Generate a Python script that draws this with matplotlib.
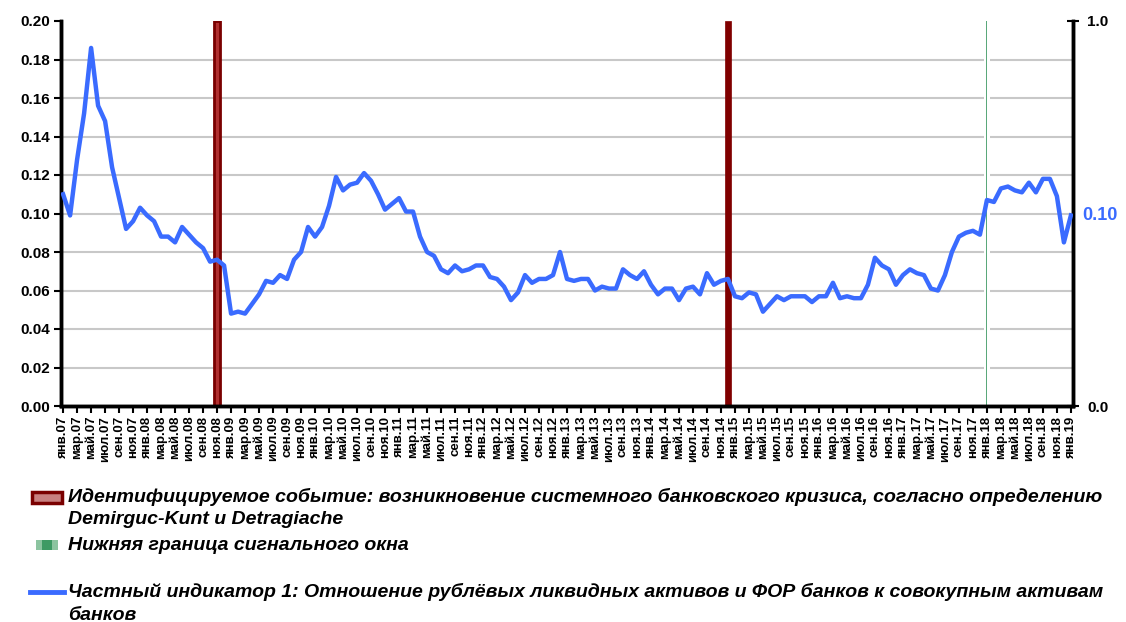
import matplotlib
matplotlib.use("Agg")
import matplotlib.pyplot as plt
from matplotlib.patches import Rectangle
from matplotlib.lines import Line2D
import numpy as np

plt.rcParams['font.family'] = ['Liberation Sans', 'DejaVu Sans']

# ---- data ----
month_abbr = ['янв', 'мар', 'май', 'июл', 'сен', 'ноя']
years = ['07', '08', '09', '10', '11', '12', '13', '14', '15', '16', '17', '18', '19']

indicator = [
    0.110, 0.099, 0.128, 0.152, 0.186, 0.156, 0.148, 0.124, 0.108, 0.092, 0.096, 0.103,  # 2007
    0.099, 0.096, 0.088, 0.088, 0.085, 0.093, 0.089, 0.085, 0.082, 0.075, 0.076, 0.073,  # 2008
    0.048, 0.049, 0.048, 0.053, 0.058, 0.065, 0.064, 0.068, 0.066, 0.076, 0.080, 0.093,  # 2009
    0.088, 0.093, 0.104, 0.119, 0.112, 0.115, 0.116, 0.121, 0.117, 0.110, 0.102, 0.105,  # 2010
    0.108, 0.101, 0.101, 0.088, 0.080, 0.078, 0.071, 0.069, 0.073, 0.070, 0.071, 0.073,  # 2011
    0.073, 0.067, 0.066, 0.062, 0.055, 0.059, 0.068, 0.064, 0.066, 0.066, 0.068, 0.080,  # 2012
    0.066, 0.065, 0.066, 0.066, 0.060, 0.062, 0.061, 0.061, 0.071, 0.068, 0.066, 0.070,  # 2013
    0.063, 0.058, 0.061, 0.061, 0.055, 0.061, 0.062, 0.058, 0.069, 0.063, 0.065, 0.066,  # 2014
    0.057, 0.056, 0.059, 0.058, 0.049, 0.053, 0.057, 0.055, 0.057, 0.057, 0.057, 0.054,  # 2015
    0.057, 0.057, 0.064, 0.056, 0.057, 0.056, 0.056, 0.063, 0.077, 0.073, 0.071, 0.063,  # 2016
    0.068, 0.071, 0.069, 0.068, 0.061, 0.060, 0.068, 0.080, 0.088, 0.090, 0.091, 0.089,  # 2017
    0.107, 0.106, 0.113, 0.114, 0.112, 0.111, 0.116, 0.111, 0.118, 0.118, 0.109, 0.085,  # 2018
    0.099,                                                                                # янв.19
]

crisis_months = [22, 95]      # ноя.08, дек.14 (month index from янв.07)
crisis_values = [1.0, 1.0]
signal_months = [132]         # янв.18
signal_values = [1.0]

last_label = '0.10'

# ---- figure ----
fig = plt.figure(figsize=(11.26, 6.22), dpi=100)
ax = fig.add_axes([61/1126, 1-406/622, (1073-61)/1126, (406-21)/622])
ax2 = ax.twinx()

n = len(indicator)
x = np.arange(n)

ax.set_ylim(0, 0.20)
ax.set_yticks(np.arange(0, 0.2001, 0.02))

# secondary axis: gridlines (below bars) and event bars
ax2.set_ylim(0, 1.0)
ax2.set_yticks(np.arange(0.1, 1.0, 0.1), minor=True)
ax2.yaxis.grid(True, which='minor', color='#c8c8c8', lw=1.5, zorder=0)
ax2.tick_params(axis='y', which='minor', length=0)
ax2.set_axisbelow(True)
ax2.bar(signal_months, signal_values, width=0.9, color='white', edgecolor='none', zorder=1)
ax2.bar(signal_months, signal_values, width=0.15, color='#5aa87a', edgecolor='none', zorder=2)
ax2.bar(crisis_months[:1], crisis_values[:1], width=0.95, color='#b03030',
        edgecolor='#7a0000', lw=2.0, zorder=2)
ax2.bar(crisis_months[1:], crisis_values[1:], width=0.8, color='#800000',
        edgecolor='#800000', lw=0.5, zorder=2)

# line on primary axis, drawn above
ax.set_zorder(ax2.get_zorder() + 1)
ax.patch.set_visible(False)
ax.plot(x, indicator, color='#3a6bff', lw=3.2, solid_joinstyle='round', zorder=5)

ax.set_xlim(-0.3, n - 0.7)

tick_pos = np.arange(0, n, 2)
tick_labels = []
for y in years:
    for m in month_abbr:
        tick_labels.append(f'{m}.{y}')
tick_labels = tick_labels[:len(tick_pos)]
ax.set_xticks(tick_pos)
ax.set_xticklabels(tick_labels, rotation=90, fontsize=9.5, fontweight='bold')

ax.set_yticklabels([f'{v:.2f}' for v in np.arange(0, 0.2001, 0.02)],
                   fontsize=11, fontweight='bold')
ax.tick_params(axis='y', direction='out', length=5, width=1.5, pad=3)
ax.tick_params(axis='x', direction='out', length=5, width=1.5, pad=2)

ax2.set_yticks([0.0, 1.0])
ax2.set_yticklabels(['0.0', '1.0'], fontsize=11, fontweight='bold')
ax2.tick_params(axis='y', which='major', direction='inout', length=8, width=1.5, pad=6)

for a in (ax, ax2):
    a.spines['top'].set_visible(False)
    for s in ('left', 'right', 'bottom'):
        a.spines[s].set_linewidth(2.5)
        a.spines[s].set_color('black')

# last value label
ax.text(1.009, indicator[-1] / 0.20, last_label, transform=ax.transAxes,
        color='#3a6bff', fontsize=13, fontweight='bold', va='center', ha='left')

# ---- legend (manual) ----
def fx(px):
    return px / 1126

def fy(py):
    return 1 - py / 622

txt_kw = dict(fontsize=14, fontweight='bold', fontstyle='italic', va='center', ha='left')

# crisis patch
fig.patches.append(Rectangle((fx(32), fy(503)), fx(30), 11/622, transform=fig.transFigure,
                             facecolor='#c88080', edgecolor='#7a0000', lw=2.5))
fig.text(fx(68), fy(497), 'Идентифицируемое событие: возникновение системного банковского кризиса, согласно определению', **txt_kw)
fig.text(fx(68), fy(520), 'Demirguc-Kunt и Detragiache', **txt_kw)

# signal patch
fig.patches.append(Rectangle((fx(36), fy(550)), fx(22), 10/622, transform=fig.transFigure,
                             facecolor='#8cc4a0', edgecolor='none'))
fig.patches.append(Rectangle((fx(42), fy(550)), fx(10), 10/622, transform=fig.transFigure,
                             facecolor='#3e9a64', edgecolor='none'))
fig.text(fx(68), fy(545), 'Нижняя граница сигнального окна', **txt_kw)

# indicator line
fig.lines.append(Line2D([fx(30), fx(64)], [fy(592), fy(592)], transform=fig.transFigure,
                        color='#3a6bff', lw=3.5))
fig.text(fx(68), fy(592), 'Частный индикатор 1: Отношение рублёвых ликвидных активов и ФОР банков к совокупным активам', **txt_kw)
fig.text(fx(68), fy(615), 'банков', **txt_kw)

fig.savefig('out.png', dpi=100)
